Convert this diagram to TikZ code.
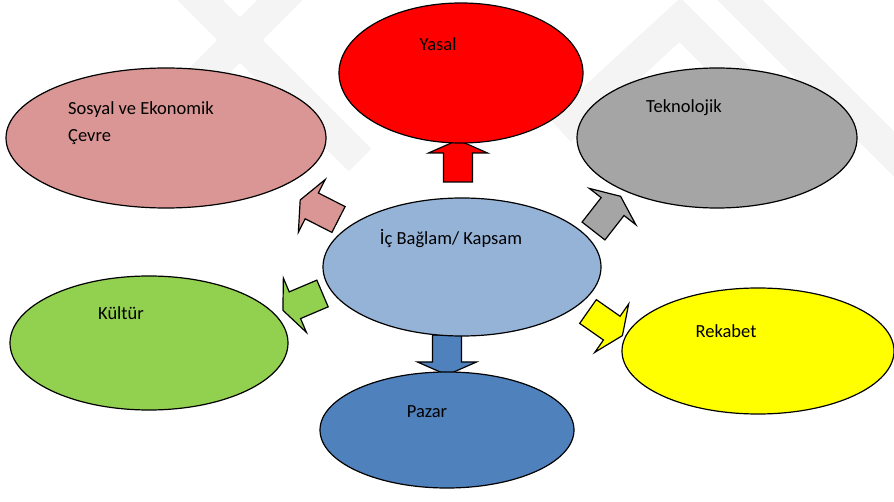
\documentclass[tikz,border=0pt]{standalone}
\usepackage{fontspec}
\setmainfont{Carlito}
\usepackage{tikz}
\usetikzlibrary{shapes.geometric}
\definecolor{YasalRed}{RGB}{255,0,0}
\definecolor{SosyalPink}{RGB}{217,150,148}
\definecolor{TeknoGray}{RGB}{165,165,165}
\definecolor{IcBlue}{RGB}{149,179,215}
\definecolor{KulturGreen}{RGB}{146,208,80}
\definecolor{RekabetYellow}{RGB}{255,255,0}
\definecolor{PazarBlue}{RGB}{79,129,189}
\definecolor{MarkGray}{RGB}{244,244,244}

\begin{document}
\begin{tikzpicture}[x=1pt, y=-1pt,
		bubble/.style={ellipse, draw=black, line width=1.2pt, inner sep=0pt},
		blockarrow/.style={draw=black, line width=1.2pt, line join=miter},
		lbl/.style={font=\fontsize{18.5}{27}\selectfont, inner sep=0pt}]
			\useasboundingbox (0,0) rectangle (894,502);
			% faint watermark in the background
			\draw[MarkGray, line width=32pt] (180,-20) -- (360,160);
			\draw[MarkGray, line width=32pt] (300,-20) -- (140,140);
			\draw[MarkGray, line width=32pt] (560,130) -- (680,20) -- (780,120);
			\draw[MarkGray, line width=32pt] (720,-20) -- (920,180);
			% block arrows from the centre
			\foreach \px/\py/\ang/\len/\col in {458/182/90/29/YasalRed, 447/335/-90/27/PazarBlue,
				593.5/231/52/31/TeknoGray, 338.5/219.5/153/30/SosyalPink,
				322.5/293.5/203/30/KulturGreen, 588/311.5/-35/29/RekabetYellow}
			\draw[blockarrow, fill=\col, shift={(\px,\py)}, rotate=\ang]
				(0,-14.5) -- (\len,-14.5) -- (\len,-29.5) -- (\len+13,0)
				-- (\len,29.5) -- (\len,14.5) -- (0,14.5) -- cycle;
			% ellipses
			\node[bubble, fill=YasalRed, minimum width=244, minimum height=140] (yasal) at (461,73) {};
			\node[bubble, fill=SosyalPink, minimum width=320, minimum height=140] (sosyal) at (166,138) {};
			\node[bubble, fill=TeknoGray, minimum width=280, minimum height=140] (tekno) at (717,138) {};
			\node[bubble, fill=IcBlue, minimum width=278, minimum height=138] (icbaglam) at (462,267) {};
			\node[bubble, fill=KulturGreen, minimum width=278, minimum height=134] (kultur) at (149,343) {};
			\node[bubble, fill=RekabetYellow, minimum width=272, minimum height=126] (rekabet) at (758,351) {};
			\node[bubble, fill=PazarBlue, minimum width=254, minimum height=116] (pazar) at (447,430) {};
			% labels
			\node[lbl] (yasaltxt) at (438,44) {Yasal};
			\node[lbl, anchor=west] (sosyaltxt) at (68,110) {Sosyal ve Ekonomik};
			\node[lbl, anchor=west] (cevretxt) at (68,137) {Çevre};
			\node[lbl] (teknotxt) at (684,108) {Teknolojik};
			\node[lbl] (ictxt) at (451,239) {İç Bağlam/ Kapsam};
			\node[lbl] (kulturtxt) at (121,313) {Kültür};
			\node[lbl] (rekabettxt) at (726,331) {Rekabet};
			\node[lbl] (pazartxt) at (427,412) {Pazar};
		\end{tikzpicture}
\end{document}
